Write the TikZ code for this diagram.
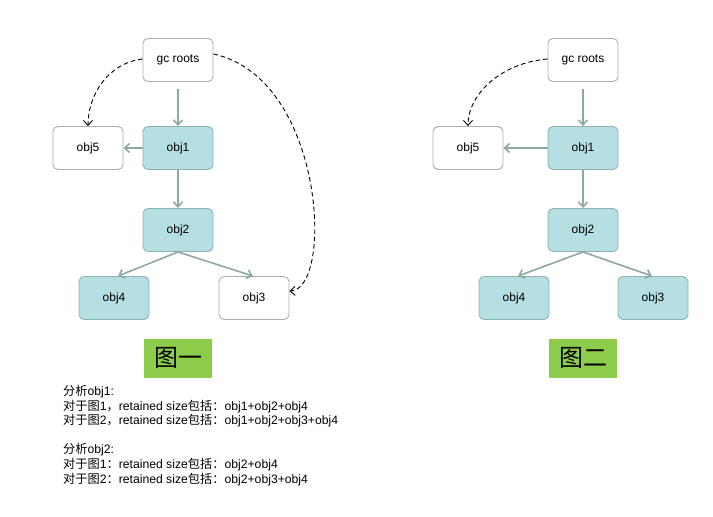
\documentclass[tikz,border=0pt]{standalone}
\usepackage{fontspec}
\setmainfont{Liberation Sans}
\newfontfamily\cjk{Noto Sans CJK SC}
\usetikzlibrary{arrows.meta}
\definecolor{tealfill}{HTML}{B5DFE2}
\definecolor{tealdraw}{HTML}{8FB3B3}
\definecolor{greydraw}{HTML}{A8B0B0}
\definecolor{arrowc}{HTML}{8DA9A3}
\definecolor{labgreen}{HTML}{8DCC4A}
\tikzset{
  objbox/.style={draw=greydraw, line width=0.9pt, rounded corners=5pt, minimum width=70pt, minimum height=43pt, inner sep=0pt, font=\fontsize{12}{14}\selectfont, fill=white},
  liveobj/.style={objbox, fill=tealfill, draw=tealdraw},
  refarrow/.style={draw=arrowc, line width=1.6pt, -{Straight Barb[length=5pt,width=9pt]}},
  weakarrow/.style={draw=black, line width=0.9pt, dashed, dash pattern=on 4.5pt off 3pt, -{Straight Barb[length=5pt,width=9pt]}},
  figlabel/.style={fill=labgreen, minimum width=68pt, minimum height=39pt, inner sep=0pt, font=\cjk\fontsize{24}{26}\selectfont},
  notes/.style={anchor=north west, align=left, inner sep=0pt, font=\fontsize{12.2}{14.6}\selectfont}
}
\begin{document}
\begin{tikzpicture}[x=1pt,y=-1pt]
\useasboundingbox[fill=white] (0,0) rectangle (713,517);
% ---- left diagram
\node[objbox] (gcA) at (178,60) {gc roots};
\node[objbox] (o5A) at (88,148) {obj5};
\node[liveobj] (o1A) at (178,148) {obj1};
\node[liveobj] (o2A) at (178,230) {obj2};
\node[liveobj] (o4A) at (114,298) {obj4};
\node[objbox] (o3A) at (254,298) {obj3};
\draw[refarrow, shorten <=7pt] (gcA.south) -- (o1A.north);
\draw[refarrow] (o1A.west) -- (o5A.east);
\draw[refarrow] (o1A.south) -- (o2A.north);
\draw[refarrow] (o2A.south) -- ([xshift=4pt]o4A.north);
\draw[refarrow] (o2A.south) -- ([xshift=-1pt]o3A.north);
\draw[weakarrow] ([yshift=1pt]gcA.west) .. controls (108,63) and (88,95) .. (o5A.north);
\draw[weakarrow] ([yshift=6pt]gcA.east) .. controls (325,78) and (334,290) .. ([yshift=7pt]o3A.east);
% ---- right diagram
\node[objbox] (gcB) at (583,60) {gc roots};
\node[objbox] (o5B) at (468,148) {obj5};
\node[liveobj] (o1B) at (583,148) {obj1};
\node[liveobj] (o2B) at (583,230) {obj2};
\node[liveobj] (o4B) at (514,298) {obj4};
\node[liveobj] (o3B) at (653,298) {obj3};
\draw[refarrow, shorten <=7pt] (gcB.south) -- (o1B.north);
\draw[refarrow] (o1B.west) -- (o5B.east);
\draw[refarrow] (o1B.south) -- (o2B.north);
\draw[refarrow] (o2B.south) -- ([xshift=4pt]o4B.north);
\draw[refarrow] (o2B.south) -- ([xshift=-1pt]o3B.north);
\draw[weakarrow] ([yshift=1pt]gcB.west) .. controls (500,63) and (468,95) .. (o5B.north);
% ---- labels
\node[figlabel] (labA) at (178,358) {图一};
\node[figlabel] (labB) at (583,358) {图二};
\node[notes] (notes) at (63,385) {%
{\cjk 分析}obj1:\\
{\cjk 对于图}1{\cjk ，}retained size{\cjk 包括：}obj1+obj2+obj4\\
{\cjk 对于图}2{\cjk ，}retained size{\cjk 包括：}obj1+obj2+obj3+obj4\\[14.6pt]
{\cjk 分析}obj2:\\
{\cjk 对于图}1{\cjk ：}retained size{\cjk 包括：}obj2+obj4\\
{\cjk 对于图}2{\cjk ：}retained size{\cjk 包括：}obj2+obj3+obj4};
\end{tikzpicture}
\end{document}
